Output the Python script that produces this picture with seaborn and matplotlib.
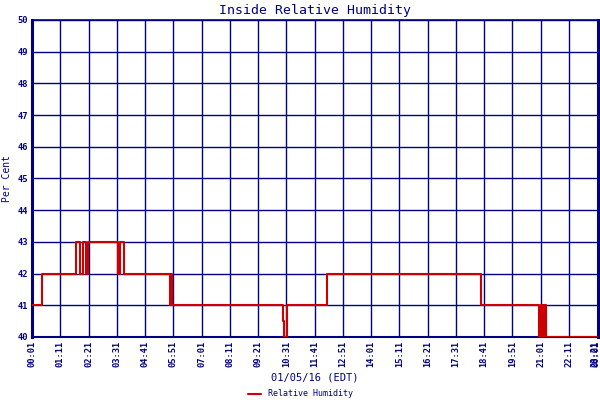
import seaborn as sns
import matplotlib.pyplot as plt
import pandas as pd
import numpy as np

sns.set_style("white")
plt.rcParams['font.family'] = ['DejaVu Sans Mono', 'DejaVu Sans']

navy = "#000080"
red = "#cc0000"

# change points of the step series: minute of day -> relative humidity (%)
change_minutes = [1, 26, 111, 120, 127, 134, 140, 215, 219, 228, 343, 345, 348,
                  623, 626, 632, 732, 1113, 1258, 1262, 1266, 1270, 1274, 1403]
humidity = [41, 42, 43, 42, 43, 42, 43, 42, 43, 42, 41, 42, 41,
            40.5, 40, 41, 42, 41, 40, 41, 40, 41, 40, 40]

tick_minutes = [1, 71, 141, 211, 281, 351, 421, 491, 561, 631, 701, 771, 841,
                911, 981, 1051, 1121, 1191, 1261, 1331]
tick_labels = ["00:01", "01:11", "02:21", "03:31", "04:41", "05:51", "07:01",
               "08:11", "09:21", "10:31", "11:41", "12:51", "14:01", "15:11",
               "16:21", "17:31", "18:41", "19:51", "21:01", "22:11"]
end_labels = ["23:21", "00:01"]
y_ticks = list(range(40, 51))

df = pd.DataFrame({"minute": change_minutes, "rh": humidity})

fig = plt.figure(figsize=(6, 4), dpi=100)
ax = fig.add_axes([32 / 600, 1 - 337 / 400, 566 / 600, 317 / 400])

sns.lineplot(data=df, x="minute", y="rh", ax=ax, color=red, linewidth=1.5,
             drawstyle="steps-post", label="Relative Humidity", zorder=3)

ax.set_xlim(1, 1403)
ax.set_ylim(40, 50)
ax.set_xticks(tick_minutes)
ax.set_xticklabels(tick_labels, rotation=90, fontsize=6.3, color=navy,
                   fontweight="bold")
ax.set_yticks(y_ticks)
ax.set_yticklabels([str(v) for v in y_ticks], fontsize=6.3, color=navy,
                   fontweight="bold")
for i, lab in enumerate(end_labels):
    ax.text(1395 + 2 * i, 39.88, lab, rotation=90, ha="center", va="top",
            fontsize=6.3, color=navy, fontweight="bold")
ax.tick_params(length=0, pad=3)
ax.grid(True, color=navy, linewidth=1.0)

for side, w in [("left", 2.2), ("right", 2.2), ("top", 1.2), ("bottom", 1.5)]:
    ax.spines[side].set_color(navy)
    ax.spines[side].set_linewidth(w)

ax.set_title("Inside Relative Humidity", color=navy, fontsize=9.5, pad=4)
ax.set_xlabel("01/05/16 (EDT)", color=navy, fontsize=7.5, labelpad=4)
ax.set_ylabel("Per Cent", color=navy, fontsize=7, labelpad=4)

ax.legend_.remove()
fig.legend(*ax.get_legend_handles_labels(), loc="lower center",
           bbox_to_anchor=(0.5, -0.015), frameon=False, fontsize=6,
           handlelength=1.6, labelcolor=navy)

fig.savefig("out.png", dpi=100, facecolor="white")
